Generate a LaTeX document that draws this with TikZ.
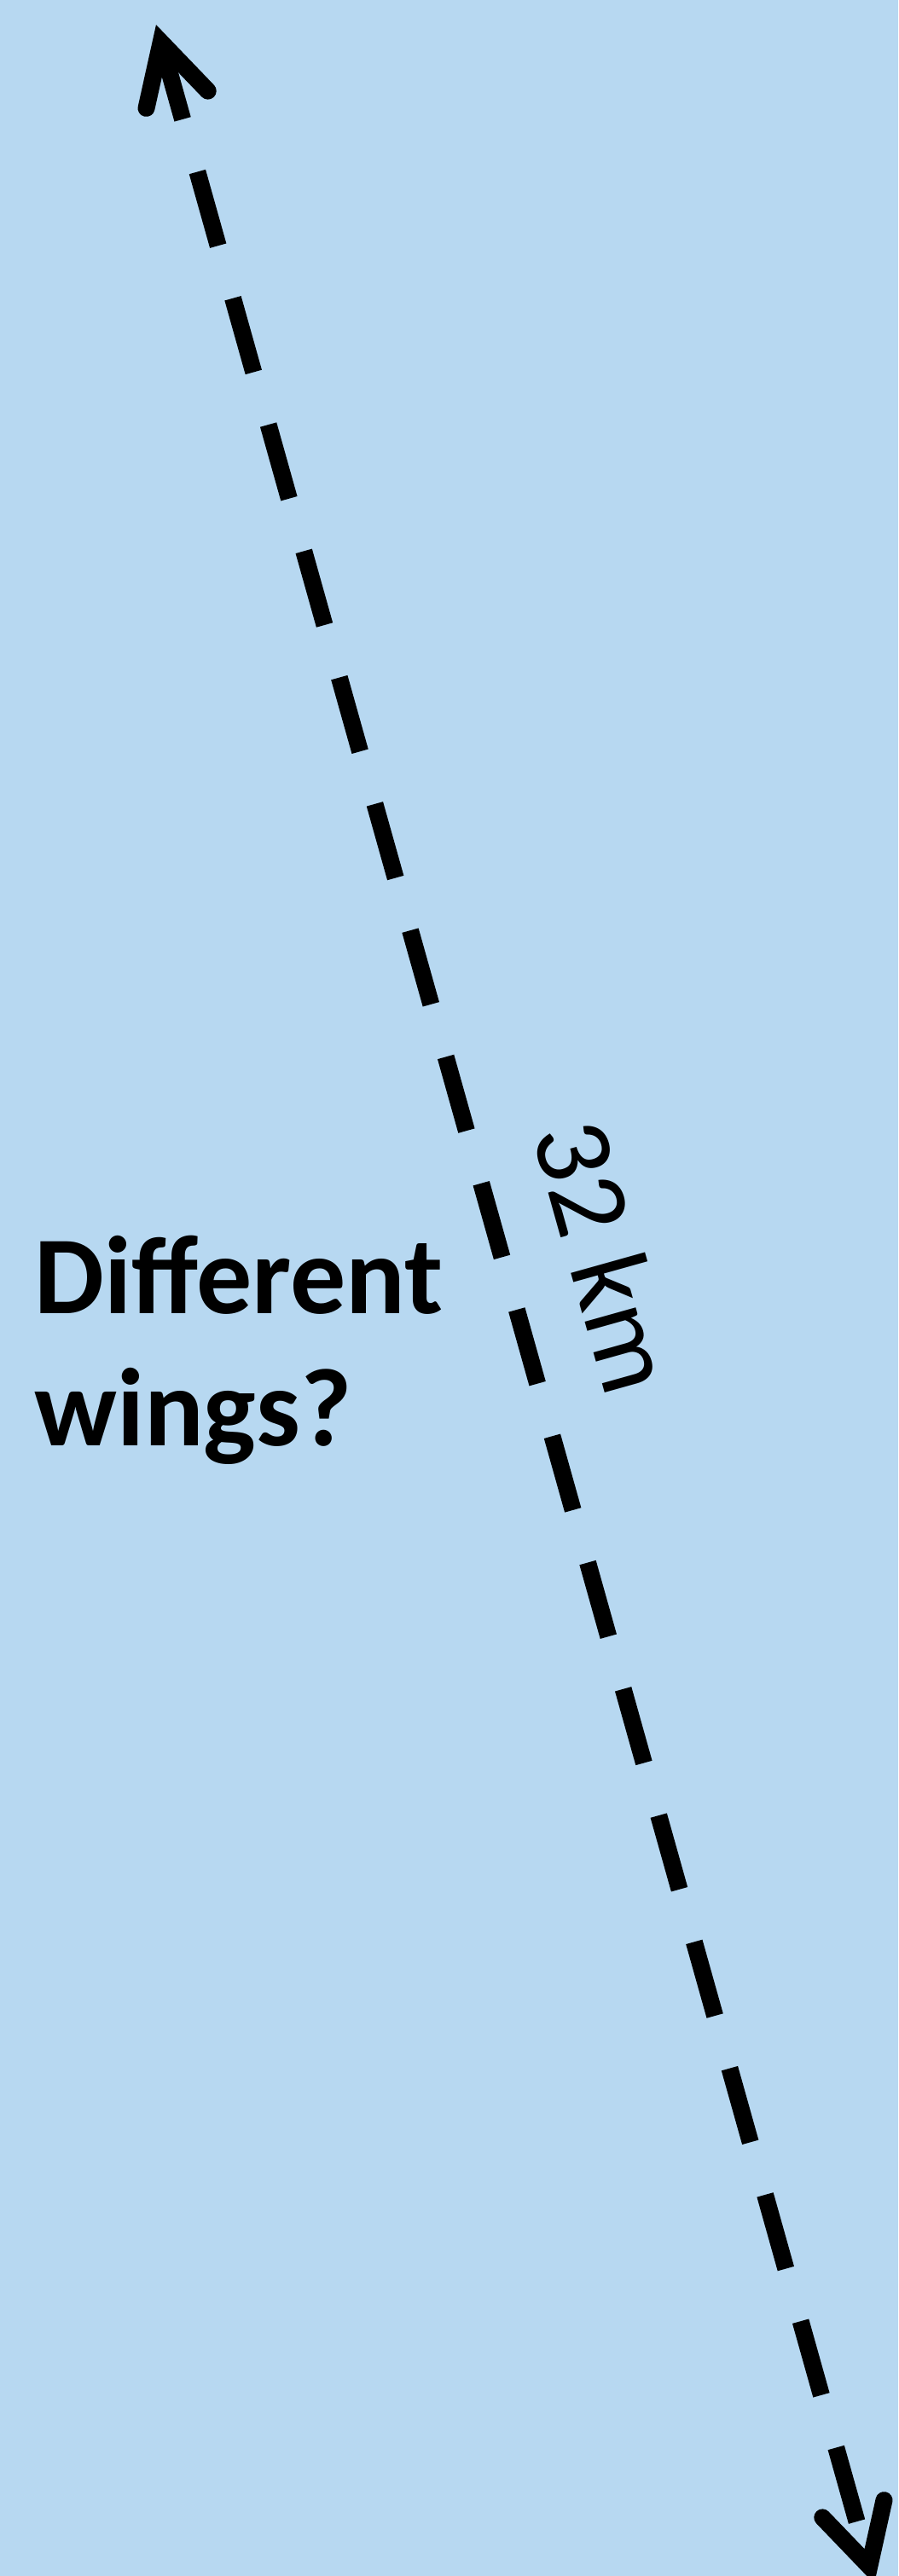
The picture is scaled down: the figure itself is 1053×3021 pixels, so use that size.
\documentclass[tikz,border=0pt]{standalone}
\usepackage{fontspec}
\setmainfont{Carlito}
\usetikzlibrary{arrows.meta}

\begin{document}
\begin{tikzpicture}[x=1pt,y=1pt]
  \definecolor{cSky}{RGB}{183,216,241}

  % background
  \fill[cSky] (0,0) rectangle (1053,-3021);
  \useasboundingbox (0,0) rectangle (1053,-3021);

  % ends of the span
  \coordinate (tipN) at (183,-29);
  \coordinate (tipS) at (1025,-3030);

  % dashed span with open heads
  \draw[line width=20pt,dash pattern=on 90pt off 64pt,dash phase=6pt,
        {Straight Barb[length=70pt,width=75pt,line cap=round,line join=miter]}-{Straight Barb[length=70pt,width=75pt,line cap=round,line join=miter]}]
    (tipN) -- (tipS)
    node[pos=0.492,sloped,above=62pt,inner sep=0pt,font=\fontsize{130}{150}\selectfont] (span) {32 km};

  % question
  \node[anchor=base west,inner sep=0pt,align=left,font=\fontsize{130}{155}\selectfont\bfseries]
    (wings) at (40,-1695) {Different\\wings?};
\end{tikzpicture}
\end{document}
